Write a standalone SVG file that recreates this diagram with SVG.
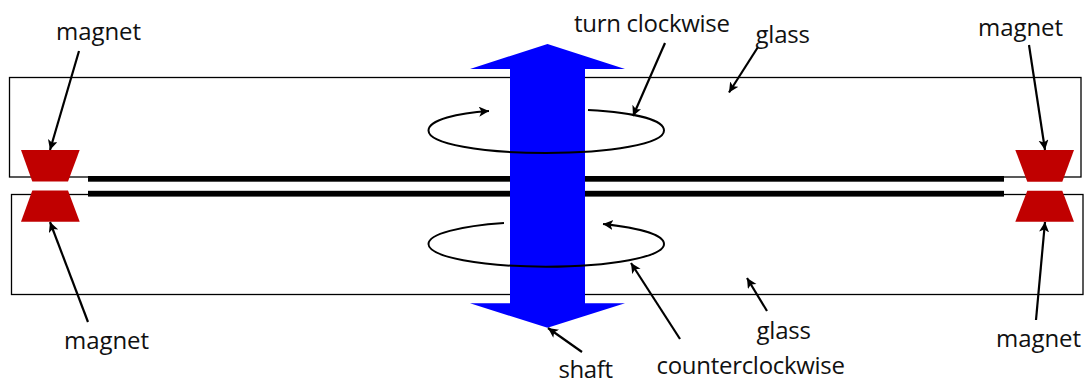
<svg xmlns="http://www.w3.org/2000/svg" width="1086" height="380" viewBox="0 0 1086 380">
<style>
text{font-family:"Open Sans","Noto Sans","Liberation Sans",sans-serif;font-size:24px;font-weight:500;fill:#111}
.glass{fill:#fff;stroke:#000;stroke-width:1.3}
.mag{fill:#c00000}
.bar{fill:#000}
.ring{fill:none;stroke:#000;stroke-width:2}
.ar{fill:none;stroke:#000;stroke-width:2.200;marker-end:url(#ah)}
</style>
<defs><marker id="ah" markerUnits="userSpaceOnUse" markerWidth="12" markerHeight="12" refX="10" refY="5" orient="auto"><path d="M0 0L10 5L0 10L2.500 5Z" fill="#000"/></marker></defs>
<g id="glass-top"><rect class="glass" x="9.500" y="77.500" width="1071.500" height="99.500"/></g>
<g id="glass-bottom"><rect class="glass" x="11.500" y="194.500" width="1071.500" height="100"/></g>
<g id="bars"><rect class="bar" x="88" y="176" width="916" height="5.700"/><rect class="bar" x="88" y="190.800" width="916" height="5.800"/></g>
<g id="magnet-left"><path class="mag" d="M21 150H79.700L68 181.600H32.300Z"/><path class="mag" d="M32.300 190.500H68L79.700 221.700H21Z"/></g>
<g id="magnet-right"><path class="mag" d="M1015.300 150H1074L1062.300 181.700H1027.300Z"/><path class="mag" d="M1027.300 190.700H1062.300L1074 221.700H1015.300Z"/></g>
<g id="shaft"><path fill="#0000ff" d="M547.500 44L625 69H585V303.300H625L547.500 327.800L470 303.300H510V69H470Z"/></g>
<g id="connectors">
<path class="ring" d="M588 110C640 113 664 121 664 130.500C664 144 610 153 546 153C482 153 428.500 144 428.500 130.500C428.500 120 458 113 489 111" style="marker-end:url(#ah)"/>
<path class="ring" d="M504 223C460 226 428.500 234 428.500 244C428.500 257 482 266.700 546 266.700C610 266.700 664 257 664 244C664 235 640 228 603 224" style="marker-end:url(#ah)"/>
<path class="ar" d="M79 51L50 150"/>
<path class="ar" d="M88 322L50 222"/>
<path class="ar" d="M665 43L633 116"/>
<path class="ar" d="M758 47L729 92.500"/>
<path class="ar" d="M767 311L747 278"/>
<path class="ar" d="M582 352L548 328"/>
<path class="ar" d="M680 339L631 263"/>
<path class="ar" d="M1029 45L1045 150"/>
<path class="ar" d="M1036 320L1045 222"/>
</g>
<g id="labels">
<text x="56" y="40" textLength="85">magnet</text>
<text x="978" y="36" textLength="85">magnet</text>
<text x="64" y="348.500" textLength="85">magnet</text>
<text x="996" y="346.500" textLength="85">magnet</text>
<text x="574" y="32.300" textLength="156">turn clockwise</text>
<text x="755.500" y="42.700" textLength="54.500">glass</text>
<text x="756.500" y="339" textLength="54.500">glass</text>
<text x="558.500" y="378" textLength="54.500">shaft</text>
<text x="656.500" y="374" textLength="188.500">counterclockwise</text>
</g>
</svg>
